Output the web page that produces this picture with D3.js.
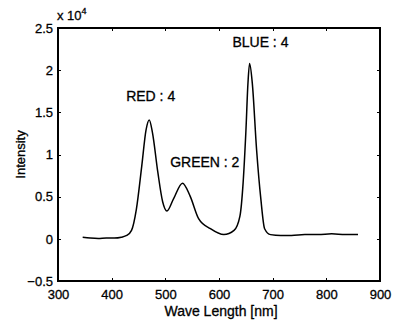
<!DOCTYPE html>
<html>
<head>
<meta charset="utf-8">
<script src="https://cdn.jsdelivr.net/npm/d3@7"></script>
<style>
  body { margin: 0; background: #fff; }
  text { font-family: "Liberation Sans", Arial, sans-serif; fill: #000; stroke: #000; stroke-width: 0.3; }
</style>
</head>
<body>
<div id="chart"></div>
<script>
// spectrum (intensity in units of 1e4)
const waveLength = [346, 360, 375, 390, 405, 418, 428, 437, 446, 456, 464, 470, 476, 486, 495, 503, 515, 532, 546, 562,
  584, 609, 628, 639, 645, 650, 654, 657, 662, 670, 678, 685, 696, 715, 735, 760, 785, 810, 835, 859];
const intensity = [0.02, 0.01, 0.005, 0.01, 0.01, 0.02, 0.04, 0.10, 0.35, 0.86, 1.29, 1.41, 1.26, 0.79, 0.44, 0.33, 0.47, 0.66, 0.51, 0.24,
  0.12, 0.05, 0.10, 0.27, 0.67, 1.26, 1.85, 2.08, 1.85, 1.06, 0.47, 0.12, 0.05, 0.04, 0.04, 0.05, 0.05, 0.06, 0.05, 0.05];

const xTicks = [300, 400, 500, 600, 700, 800, 900];
const yTicks = [-0.5, 0, 0.5, 1, 1.5, 2, 2.5];

const peakLabels = ["RED : 4", "GREEN : 2", "BLUE : 4"];
const labelAt = [[427, 1.64], [509, 0.85], [625, 2.28]]; // [nm, value] where each label starts

const width = 398, height = 321;
const margin = { top: 28, right: 18, bottom: 40, left: 58 };

const svg = d3.select("#chart").append("svg")
  .attr("width", width).attr("height", height);

const x = d3.scaleLinear().domain([300, 900]).range([margin.left, width - margin.right]);
const y = d3.scaleLinear().domain([-0.5, 2.5]).range([height - margin.bottom, margin.top]);

// frame
svg.append("rect")
  .attr("x", x(300)).attr("y", y(2.5))
  .attr("width", x(900) - x(300)).attr("height", y(-0.5) - y(2.5))
  .attr("fill", "none").attr("stroke", "#000").attr("stroke-width", 1.4)
  .attr("shape-rendering", "crispEdges");

// inward ticks on all sides
const tl = 3;
const fmt = d => d3.format("")(d);
const axBottom = svg.append("g").attr("transform", `translate(0,${y(-0.5)})`)
  .call(d3.axisBottom(x).tickValues(xTicks).tickSizeInner(-tl).tickSizeOuter(0).tickPadding(9).tickFormat(fmt));
const axTop = svg.append("g").attr("transform", `translate(0,${y(2.5)})`)
  .call(d3.axisTop(x).tickValues(xTicks).tickSizeInner(-tl).tickSizeOuter(0).tickFormat(""));
const axLeft = svg.append("g").attr("transform", `translate(${x(300)},0)`)
  .call(d3.axisLeft(y).tickValues(yTicks).tickSizeInner(-tl).tickSizeOuter(0).tickPadding(5).tickFormat(fmt));
const axRight = svg.append("g").attr("transform", `translate(${x(900)},0)`)
  .call(d3.axisRight(y).tickValues(yTicks).tickSizeInner(-tl).tickSizeOuter(0).tickFormat(""));

[axBottom, axTop, axLeft, axRight].forEach(g => {
  g.select(".domain").remove();
  g.selectAll(".tick line").attr("stroke", "#000").attr("stroke-width", 1).attr("shape-rendering", "crispEdges");
  g.selectAll("text").attr("font-size", 13).attr("font-family", null).attr("fill", "#000");
});

// exponent
const expo = svg.append("text").attr("x", x(300) - 1).attr("y", 20).attr("font-size", 13);
expo.append("tspan").text("x 10");
expo.append("tspan").attr("dy", -6).attr("font-size", 9).text("4");

// axis titles
svg.append("text")
  .attr("x", 221).attr("y", 316)
  .attr("text-anchor", "middle").attr("font-size", 14)
  .text("Wave Length [nm]");

svg.append("text")
  .attr("transform", `translate(25,${(y(-0.5) + y(2.5)) / 2}) rotate(-90)`)
  .attr("text-anchor", "middle").attr("font-size", 13)
  .text("Intensity");

// spectrum
const line = d3.line()
  .x((d, i) => x(waveLength[i]))
  .y(d => y(d))
  .curve(d3.curveMonotoneX);

svg.append("path")
  .datum(intensity)
  .attr("d", line)
  .attr("fill", "none").attr("stroke", "#000").attr("stroke-width", 1.5);

// peak labels
svg.selectAll(".peak")
  .data(peakLabels)
  .join("text")
  .attr("class", "peak")
  .attr("x", (d, i) => x(labelAt[i][0]))
  .attr("y", (d, i) => y(labelAt[i][1]))
  .attr("font-size", 14)
  .text(d => d);
</script>
</body>
</html>
